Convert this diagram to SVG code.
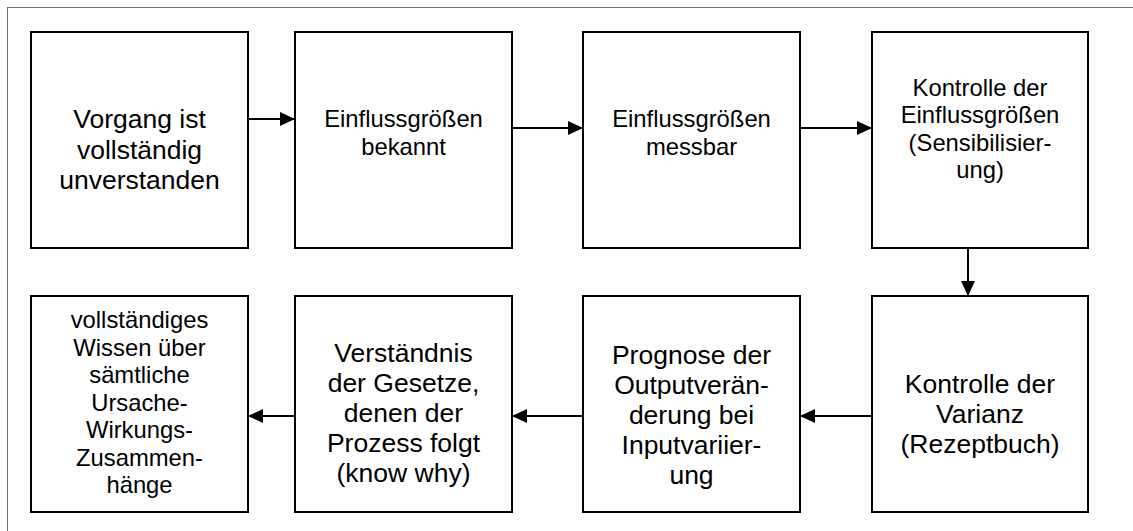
<svg xmlns="http://www.w3.org/2000/svg" width="1133" height="531" viewBox="0 0 1133 531">
  <style>
    .box { fill: #ffffff; stroke: #000000; stroke-width: 2; }
    .lbl { font-family: "Liberation Sans", Arial, sans-serif; fill: #000000; text-anchor: middle; }
    .big { font-size: 26.5px; }
    .small { font-size: 23.8px; }
    .edge { fill: none; stroke: #000000; stroke-width: 2; marker-end: url(#head); }
  </style>
  <defs>
    <marker id="head" markerUnits="userSpaceOnUse" markerWidth="15" markerHeight="14" refX="15" refY="7" orient="auto">
      <path d="M0,0 L15,7 L0,14 Z" fill="#000000"/>
    </marker>
  </defs>

  <!-- page background and frame -->
  <rect x="0" y="0" width="1133" height="531" fill="#ffffff"/>
  <rect x="7.5" y="7.5" width="1140" height="540" fill="none" stroke="#707070" stroke-width="1"/>

  <!-- connectors -->
  <g id="connectors">
    <line class="edge" x1="248" y1="119" x2="295" y2="119"/>
    <line class="edge" x1="512" y1="128" x2="583" y2="128"/>
    <line class="edge" x1="800" y1="128" x2="872" y2="128"/>
    <line class="edge" x1="968" y1="248" x2="968" y2="296"/>
    <line class="edge" x1="872" y1="416" x2="800" y2="416"/>
    <line class="edge" x1="583" y1="416" x2="512" y2="416"/>
    <line class="edge" x1="295" y1="416" x2="248" y2="416"/>
  </g>

  <!-- top row -->
  <g id="n1">
    <rect class="box" x="31" y="32" width="217" height="216"/>
    <text class="lbl big" x="139.5" y="128">Vorgang ist</text>
    <text class="lbl big" x="139.5" y="158.5">vollständig</text>
    <text class="lbl big" x="139.5" y="189">unverstanden</text>
  </g>
  <g id="n2">
    <rect class="box" x="295" y="32" width="217" height="216"/>
    <text class="lbl small" x="403.5" y="127">Einflussgrößen</text>
    <text class="lbl small" x="403.5" y="154.5">bekannt</text>
  </g>
  <g id="n3">
    <rect class="box" x="583" y="32" width="217" height="216"/>
    <text class="lbl small" x="691.5" y="127">Einflussgrößen</text>
    <text class="lbl small" x="691.5" y="154.5">messbar</text>
  </g>
  <g id="n4">
    <rect class="box" x="872" y="32" width="216" height="216"/>
    <text class="lbl small" x="980" y="95.7">Kontrolle der</text>
    <text class="lbl small" x="980" y="123.2">Einflussgrößen</text>
    <text class="lbl small" x="980" y="150.7">(Sensibilisier-</text>
    <text class="lbl small" x="980" y="178.2">ung)</text>
  </g>

  <!-- bottom row -->
  <g id="n5">
    <rect class="box" x="872" y="296" width="216" height="216"/>
    <text class="lbl big" x="980" y="393">Kontrolle der</text>
    <text class="lbl big" x="980" y="423">Varianz</text>
    <text class="lbl big" x="980" y="453">(Rezeptbuch)</text>
  </g>
  <g id="n6">
    <rect class="box" x="583" y="296" width="217" height="216"/>
    <text class="lbl big" x="691.5" y="364">Prognose der</text>
    <text class="lbl big" x="691.5" y="394">Outputverän-</text>
    <text class="lbl big" x="691.5" y="424">derung bei</text>
    <text class="lbl big" x="691.5" y="454">Inputvariier-</text>
    <text class="lbl big" x="691.5" y="484">ung</text>
  </g>
  <g id="n7">
    <rect class="box" x="295" y="296" width="217" height="216"/>
    <text class="lbl big" x="403.5" y="362">Verständnis</text>
    <text class="lbl big" x="403.5" y="392">der Gesetze,</text>
    <text class="lbl big" x="403.5" y="422">denen der</text>
    <text class="lbl big" x="403.5" y="452">Prozess folgt</text>
    <text class="lbl big" x="403.5" y="482">(know why)</text>
  </g>
  <g id="n8">
    <rect class="box" x="31" y="296" width="217" height="216"/>
    <text class="lbl small" x="139.5" y="328.3">vollständiges</text>
    <text class="lbl small" x="139.5" y="355.8">Wissen über</text>
    <text class="lbl small" x="139.5" y="383.3">sämtliche</text>
    <text class="lbl small" x="139.5" y="410.8">Ursache-</text>
    <text class="lbl small" x="139.5" y="438.3">Wirkungs-</text>
    <text class="lbl small" x="139.5" y="465.8">Zusammen-</text>
    <text class="lbl small" x="139.5" y="493.3">hänge</text>
  </g>
</svg>
